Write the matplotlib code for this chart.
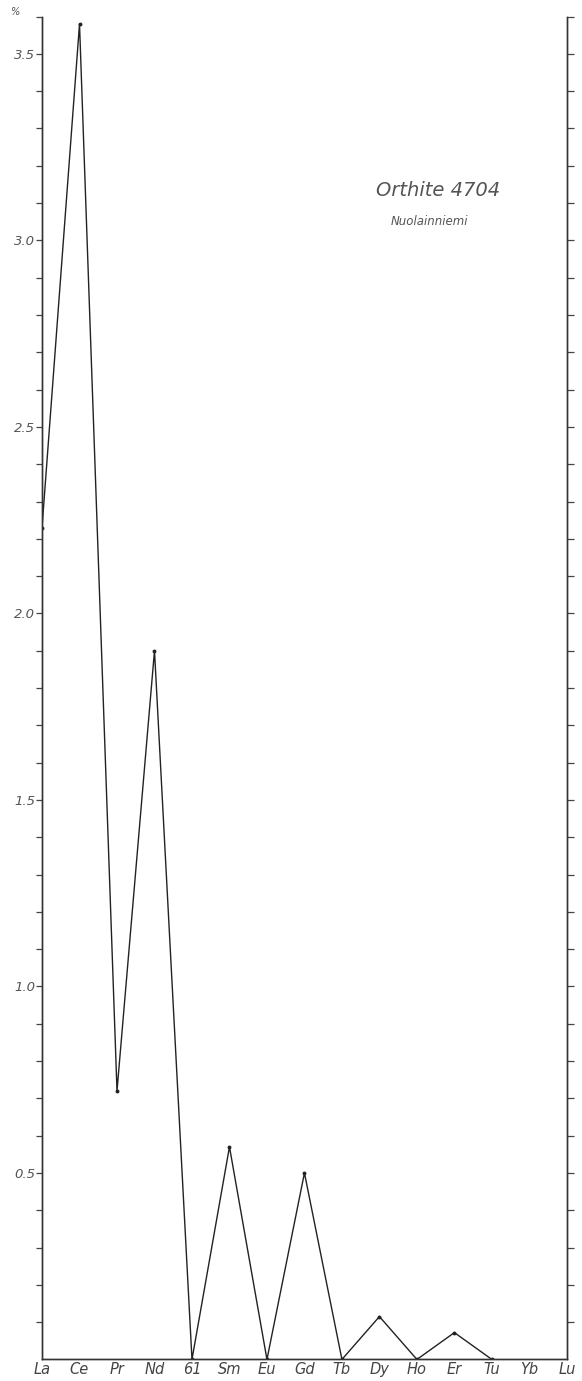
import matplotlib
matplotlib.use("Agg")
import matplotlib.pyplot as plt
import numpy as np

# rare earth elements and their content (%), Yb and Lu not determined
elements = ['La', 'Ce', 'Pr', 'Nd', '61', 'Sm', 'Eu', 'Gd', 'Tb', 'Dy', 'Ho', 'Er', 'Tu', 'Yb', 'Lu']
content = [2.23, 3.58, 0.72, 1.90, 0.0, 0.57, 0.0, 0.50, 0.0, 0.115, 0.0, 0.072, 0.0, np.nan, np.nan]

y_labels = ['0.5', '1.0', '1.5', '2.0', '2.5', '3.0', '3.5']

fig = plt.figure(figsize=(5.82, 13.81), dpi=100)
ax = fig.add_axes([0.0722, 0.0156, 0.9018, 0.9724])
ax2 = ax.twinx()

x = np.arange(len(elements))
ax.plot(x, content, color='#222222', linewidth=1.0, marker='o', markersize=2.8,
        markerfacecolor='#222222', markeredgewidth=0)

ax.set_xlim(0, len(elements) - 1)
ax.set_ylim(0, 3.6)
ax2.set_ylim(0, 3.6)

minor = np.round(np.arange(0.1, 3.61, 0.1), 1)
tick_text = ['%.1f' % v for v in minor]
ax.set_yticks(minor)
ax.set_yticklabels([t if t in y_labels else '' for t in tick_text],
                   fontsize=9.5, fontstyle='italic', color='#555555')
ax2.set_yticks(minor)
ax2.set_yticklabels([])

ax.tick_params(axis='y', left=True, right=False, direction='out', length=4,
               width=0.9, color='#444444', pad=1)
ax2.tick_params(axis='y', left=False, right=True, direction='out', length=5,
                width=0.9, color='#444444')

ax.set_xticks(x)
ax.set_xticklabels(elements, fontsize=10.5, fontstyle='italic', color='#444444')
ax.tick_params(axis='x', length=0, pad=2)

for a in (ax, ax2):
    a.spines['top'].set_visible(False)
    for s in ('left', 'right', 'bottom'):
        a.spines[s].set_linewidth(1.0)
        a.spines[s].set_color('#333333')

fig.text(0.026, 0.991, '%', fontsize=7, fontstyle='italic', color='#555555',
         ha='center', va='center')
ax.text(0.752, 0.862, 'Orthite 4704', transform=fig.transFigure, fontsize=14,
        fontstyle='italic', color='#555555', ha='center', va='center')
ax.text(0.738, 0.8395, 'Nuolainniemi', transform=fig.transFigure, fontsize=8.5,
        fontstyle='italic', color='#555555', ha='center', va='center')

fig.savefig('out.png', dpi=100, facecolor='white')
